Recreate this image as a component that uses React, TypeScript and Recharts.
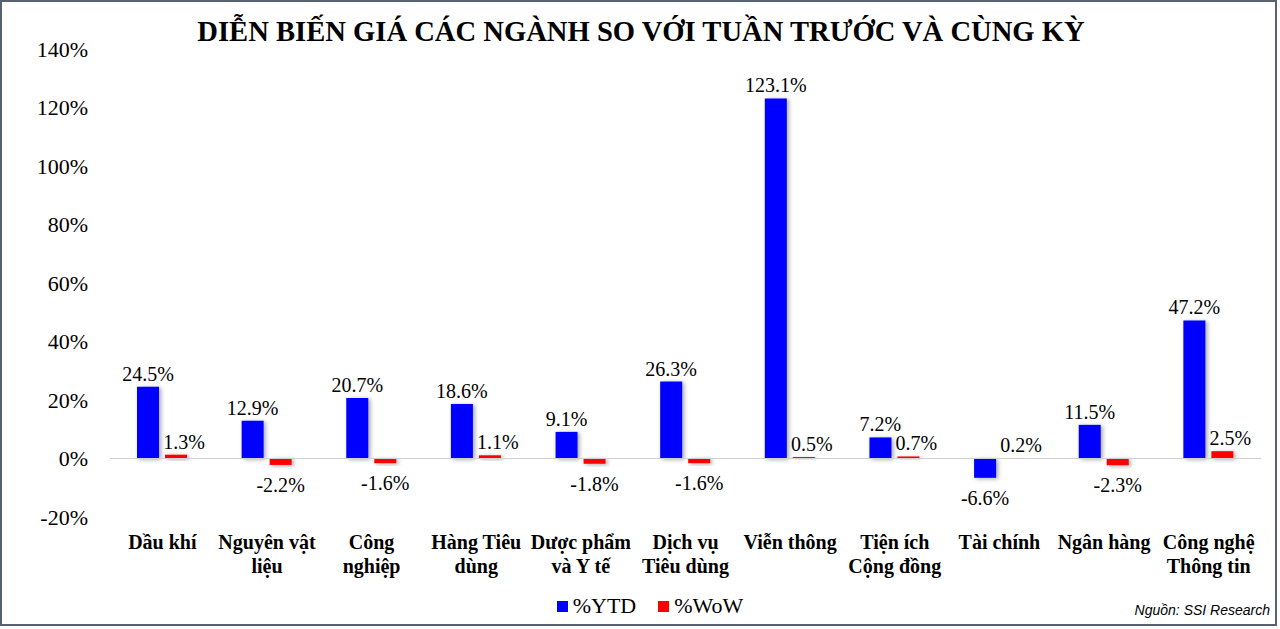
import React from 'react';
import { BarChart, Bar, XAxis, YAxis, ReferenceLine, LabelList, Legend, Rectangle } from 'recharts';

const categories = [
  'Dầu khí',
  'Nguyên vật\nliệu',
  'Công\nnghiệp',
  'Hàng Tiêu\ndùng',
  'Dược phẩm\nvà Y tế',
  'Dịch vụ\nTiêu dùng',
  'Viễn thông',
  'Tiện ích\nCộng đồng',
  'Tài chính',
  'Ngân hàng',
  'Công nghệ\nThông tin',
];
const ytd = [24.5, 12.9, 20.7, 18.6, 9.1, 26.3, 123.1, 7.2, -6.6, 11.5, 47.2];
const wow = [1.3, -2.2, -1.6, 1.1, -1.8, -1.6, 0.5, 0.7, 0.2, -2.3, 2.5];
const yTicks = [-20, 0, 20, 40, 60, 80, 100, 120, 140];
const seriesNames = ['%YTD', '%WoW'];
const colors = ['#0000FF', '#FF0000'];

const data = categories.map((c, i) => ({ name: c, ytd: ytd[i], wow: wow[i] }));

const SERIF = '"Liberation Serif", "Times New Roman", serif';

const ShadowBar = (props: any) => <Rectangle {...props} filter="url(#barShadow)" />;

const CatTick = (props: any) => {
  const { x, y, payload } = props;
  const lines = String(payload.value).split('\n');
  return (
    <g>
      {lines.map((l, i) => (
        <text key={i} x={x} y={y + 30 + i * 24} textAnchor="middle" fontFamily={SERIF} fontWeight="bold" fontSize={20} fill="#000">
          {l}
        </text>
      ))}
    </g>
  );
};

const makeLabel = (dxPos: number) => (props: any) => {
  const { x, y, width, height, value } = props;
  const v = Number(value);
  const cx = x + width / 2;
  const top = Math.min(y, y + height);
  const bottom = Math.max(y, y + height);
  const ty = v >= 0 ? top - 6 : bottom + 27;
  const tx = v >= 0 ? cx + dxPos : cx;
  return (
    <text x={tx} y={ty} textAnchor="middle" fontFamily={SERIF} fontSize={20} fill="#000">
      {v.toFixed(1)}%
    </text>
  );
};

const LegendContent = () => (
  <div style={{ display: 'flex', justifyContent: 'center', alignItems: 'center', fontFamily: SERIF, fontSize: 22, color: '#000' }}>
    {seriesNames.map((n, i) => (
      <div key={n} style={{ display: 'flex', alignItems: 'center', marginLeft: i ? 22 : 0, fontFamily: SERIF }}>
        <span style={{ display: 'inline-block', width: 11, height: 11, background: colors[i], marginRight: 5 }} />
        <span style={{ fontFamily: SERIF }}>{n}</span>
      </div>
    ))}
  </div>
);

export default function App() {
  return (
    <div style={{ position: 'absolute', left: 0, top: 0, width: 1280, height: 629, background: '#fff' }}>
      <svg width={0} height={0} style={{ position: 'absolute' }}>
        <defs>
          <filter id="barShadow" x="-50%" y="-50%" width="200%" height="200%">
            <feDropShadow dx={2} dy={1} stdDeviation={2.2} floodColor="#000" floodOpacity={0.35} />
          </filter>
        </defs>
      </svg>
      <div style={{ position: 'absolute', left: 0, top: 0, width: 1277, height: 626, border: '2px solid #566270', boxSizing: 'border-box' }} />
      <div style={{ position: 'absolute', left: 0, top: 14, width: 1282, textAlign: 'center', fontFamily: SERIF, fontWeight: 'bold', fontSize: 28.6, color: '#000', lineHeight: '36px' }}>
        DIỄN BIẾN GIÁ CÁC NGÀNH SO VỚI TUẦN TRƯỚC VÀ CÙNG KỲ
      </div>
      <div style={{ position: 'absolute', right: 10, top: 602, fontFamily: '"Liberation Sans", Arial, sans-serif', fontStyle: 'italic', fontSize: 14, color: '#000' }}>
        Nguồn: SSI Research
      </div>
      <div style={{ position: 'absolute', left: 0, top: 0 }}>
        <BarChart width={1280} height={626} data={data} margin={{ top: 49, right: 19, left: 0, bottom: 39 }} barSize={22} barGap={6}>
          <YAxis
            domain={[-20, 140]}
            ticks={yTicks}
            width={110}
            axisLine={false}
            tickLine={false}
            tickSize={0}
            tickMargin={22}
            tickFormatter={(v: number) => `${v}%`}
            tick={{ fontFamily: SERIF, fontSize: 22, fill: '#000' }}
            interval={0}
          />
          <XAxis dataKey="name" axisLine={false} tickLine={false} tickSize={0} height={70} interval={0} tick={<CatTick />} />
          <ReferenceLine y={0} stroke="#d0d0d0" strokeWidth={1} />
          <Legend
            verticalAlign="middle"
            align="center"
            layout="horizontal"
            wrapperStyle={{ top: 593, left: 25, width: 1250, fontFamily: SERIF }}
            content={<LegendContent />}
          />
          <Bar dataKey="ytd" name={seriesNames[0]} fill={colors[0]} isAnimationActive={false} shape={ShadowBar}>
            <LabelList dataKey="ytd" content={makeLabel(0)} />
          </Bar>
          <Bar dataKey="wow" name={seriesNames[1]} fill={colors[1]} isAnimationActive={false} shape={ShadowBar}>
            <LabelList dataKey="wow" content={makeLabel(8)} />
          </Bar>
        </BarChart>
      </div>
    </div>
  );
}
